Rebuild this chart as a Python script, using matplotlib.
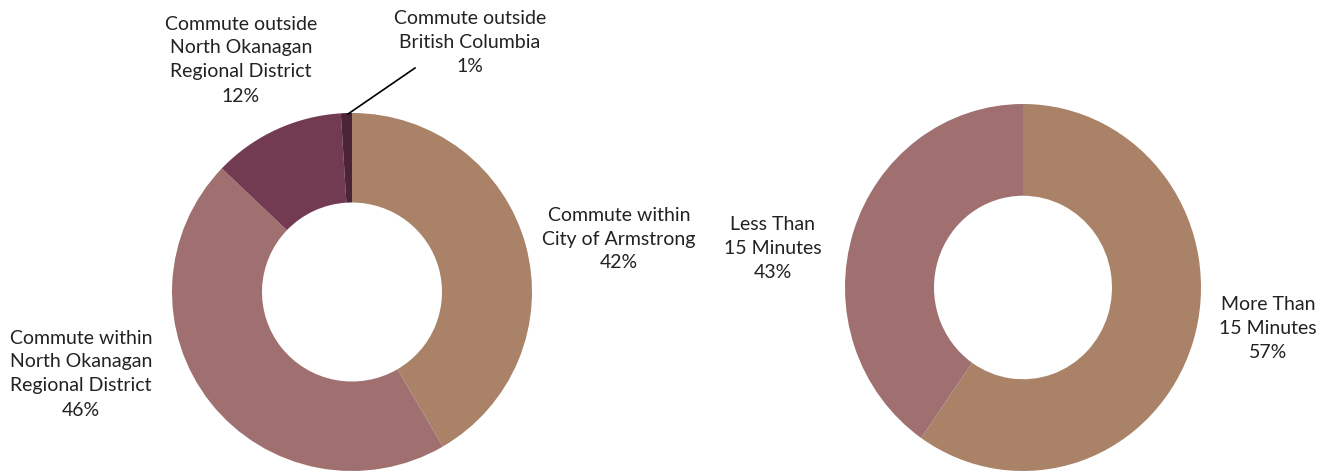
import matplotlib
matplotlib.use("Agg")
import matplotlib.pyplot as plt

# Data
commute_dest_labels = ["Commute within\nCity of Armstrong",
                       "Commute within\nNorth Okanagan\nRegional District",
                       "Commute outside\nNorth Okanagan\nRegional District",
                       "Commute outside\nBritish Columbia"]
commute_dest_values = [42, 46, 12, 1]
commute_dest_pct = ["42%", "46%", "12%", "1%"]

commute_time_labels = ["More Than\n15 Minutes", "Less Than\n15 Minutes"]
commute_time_values = [59.7, 40.3]   # slice sizes as drawn in the reference
commute_time_pct = ["57%", "43%"]    # printed labels

colors_dest = ["#A98267", "#A07070", "#733B52", "#4B2438"]
colors_time = ["#A98267", "#A07070"]

W, H = 1330, 475
fig = plt.figure(figsize=(W / 100, H / 100), dpi=100)
plt.rcParams['font.family'] = ['Lato', 'DejaVu Sans']

def add_donut(cx, cy, rx, ry, values, colors):
    ax = fig.add_axes([(cx - rx) / W, (H - cy - ry) / H, 2 * rx / W, 2 * ry / H])
    ax.pie(values, colors=colors, startangle=90, counterclock=False,
           wedgeprops=dict(width=0.5, linewidth=0), radius=1.0)
    ax.set_xlim(-1, 1)
    ax.set_ylim(-1, 1)
    ax.set_aspect('auto')
    ax.axis('off')
    return ax

add_donut(352, 292, 180, 179, commute_dest_values, colors_dest)
add_donut(1023, 287.5, 178, 183.5, commute_time_values, colors_time)

def label(x, y, txt):
    fig.text(x / W, 1 - y / H, txt, ha='center', va='center', fontsize=14,
             color='#222222', linespacing=1.5)

pos_dest = [(619, 239), (81, 374), (241, 60), (470, 43)]
for (x, y), lab, p in zip(pos_dest, commute_dest_labels, commute_dest_pct):
    label(x, y, f"{lab}\n{p}")

pos_time = [(1268, 328), (773, 249)]
for (x, y), lab, p in zip(pos_time, commute_time_labels, commute_time_pct):
    label(x, y, f"{lab}\n{p}")

# leader line for small slice
fig.add_artist(plt.Line2D([348 / W, 415 / W], [1 - 114 / H, 1 - 68 / H],
                          color='black', linewidth=1.2))

fig.savefig("out.png", dpi=100, facecolor='white')
